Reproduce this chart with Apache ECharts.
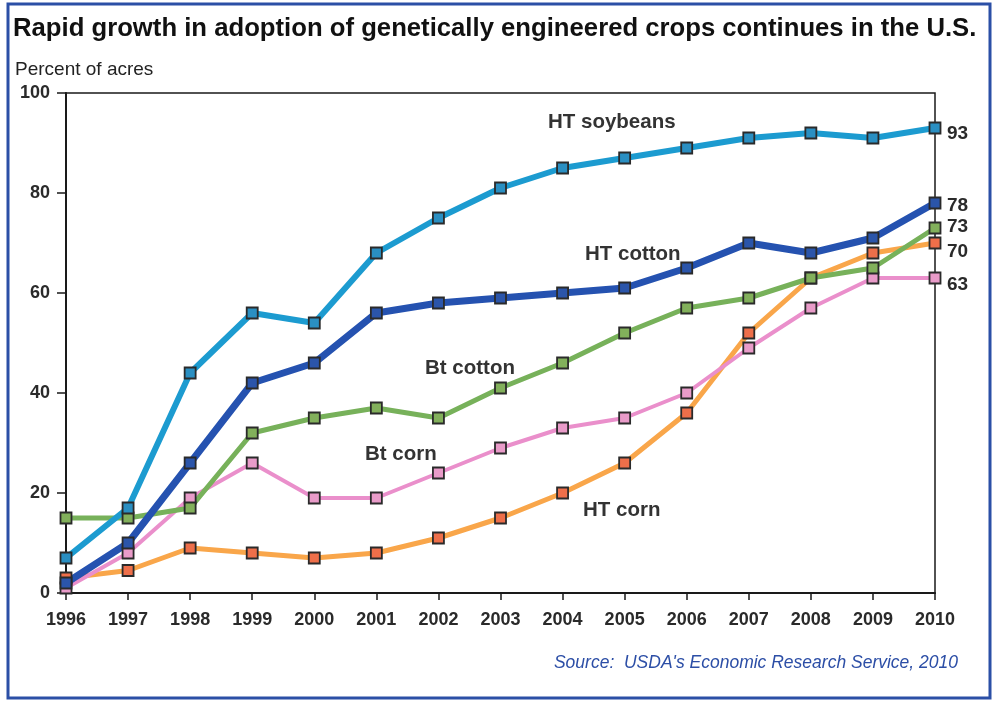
<!DOCTYPE html>
<html>
<head>
<meta charset="utf-8">
<script src="https://cdn.jsdelivr.net/npm/echarts@6/dist/echarts.min.js"></script>
<style>
  html, body { margin: 0; padding: 0; background: #fff; }
  #main { width: 998px; height: 704px; }
</style>
</head>
<body>
<div id="main"></div>
<script>
var years = ['1996','1997','1998','1999','2000','2001','2002','2003','2004','2005','2006','2007','2008','2009','2010'];
var htSoybeans = [7, 17, 44, 56, 54, 68, 75, 81, 85, 87, 89, 91, 92, 91, 93];
var htCotton   = [2, 10, 26, 42, 46, 56, 58, 59, 60, 61, 65, 70, 68, 71, 78];
var btCotton   = [15, 15, 17, 32, 35, 37, 35, 41, 46, 52, 57, 59, 63, 65, 73];
var btCorn     = [1, 8, 19, 26, 19, 19, 24, 29, 33, 35, 40, 49, 57, 63, 63];
var htCorn     = [3, 4.5, 9, 8, 7, 8, 11, 15, 20, 26, 36, 52, 63, 68, 70];
var yTicks = [0, 20, 40, 60, 80, 100];

var chart = echarts.init(document.getElementById('main'));

var font = 'Liberation Sans, Arial, sans-serif';

function mkSeries(name, data, lineColor, fillColor, width, endOffsetY) {
    return {
        name: name,
        type: 'line',
        data: data,
        symbol: 'rect',
        symbolSize: 11,
        showAllSymbol: true,
        lineStyle: { color: lineColor, width: width },
        itemStyle: { color: fillColor, borderColor: '#2a2a2a', borderWidth: 1.8 },
        endLabel: {
            show: true,
            formatter: '{c}',
            color: '#2a2a2a',
            fontFamily: font,
            fontWeight: 'bold',
            fontSize: 19,
            distance: 12,
            offset: [0, endOffsetY]
        },
        emphasis: { disabled: true },
        animation: false,
        z: 2
    };
}

var option = {
    backgroundColor: '#fff',
    animation: false,
    grid: { left: 66, right: 63, top: 93, bottom: 111, show: true, borderColor: '#1a1a1a', borderWidth: 1.5, backgroundColor: 'transparent' },
    xAxis: {
        type: 'category',
        data: years,
        boundaryGap: false,
        axisLine: { lineStyle: { color: '#1a1a1a', width: 2 } },
        axisTick: { show: true, length: 7, inside: false, lineStyle: { color: '#1a1a1a', width: 1.5 } },
        axisLabel: { color: '#2a2a2a', fontFamily: font, fontWeight: 'bold', fontSize: 18, margin: 18 },
        splitLine: { show: false }
    },
    yAxis: {
        type: 'value',
        min: yTicks[0],
        max: yTicks[yTicks.length - 1],
        interval: 20,
        axisLine: { show: true, lineStyle: { color: '#1a1a1a', width: 2 } },
        axisTick: { show: true, length: 9, lineStyle: { color: '#1a1a1a', width: 1.5 } },
        axisLabel: { color: '#2a2a2a', fontFamily: font, fontWeight: 'bold', fontSize: 18, margin: 16 },
        splitLine: { show: false }
    },
    series: [
        mkSeries('HT corn', htCorn, '#f9a64a', '#ee6f4a', 5, 9),
        mkSeries('Bt corn', btCorn, '#ea8fcb', '#e99bc9', 4, 7),
        mkSeries('Bt cotton', btCotton, '#77b15a', '#82b05b', 5, -1),
        mkSeries('HT cotton', htCotton, '#2552b0', '#2b55aa', 7, 3),
        mkSeries('HT soybeans', htSoybeans, '#1c9bd0', '#2a8fc2', 6, 6)
    ],
    graphic: [
        { type: 'rect', shape: { x: 8, y: 4, width: 982, height: 694 }, style: { fill: 'none', stroke: '#2b4fa6', lineWidth: 3 }, z: 10 },
        { type: 'text', left: 13, top: 16, style: { text: 'Rapid growth in adoption of genetically engineered crops continues in the U.S.', font: 'bold 25.7px ' + font, fill: '#111' } },
        { type: 'text', left: 15, top: 60, style: { text: 'Percent of acres', font: '19px ' + font, fill: '#222' } },
        { type: 'text', left: 548, top: 112, style: { text: 'HT soybeans', font: 'bold 20.5px ' + font, fill: '#333' } },
        { type: 'text', left: 585, top: 244, style: { text: 'HT cotton', font: 'bold 20.5px ' + font, fill: '#333' } },
        { type: 'text', left: 425, top: 358, style: { text: 'Bt cotton', font: 'bold 20.5px ' + font, fill: '#333' } },
        { type: 'text', left: 365, top: 444, style: { text: 'Bt corn', font: 'bold 20.5px ' + font, fill: '#333' } },
        { type: 'text', left: 583, top: 500, style: { text: 'HT corn', font: 'bold 20.5px ' + font, fill: '#333' } },
        { type: 'text', right: 40, top: 654, style: { text: "Source:  USDA's Economic Research Service, 2010", font: 'italic 17.5px ' + font, fill: '#2c4ea6' } }
    ]
};

chart.setOption(option);
window.addEventListener('resize', chart.resize);
</script>
</body>
</html>
